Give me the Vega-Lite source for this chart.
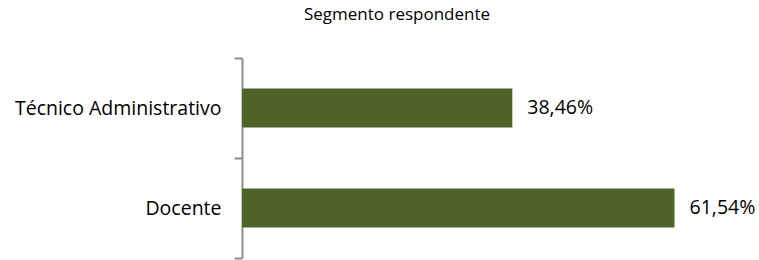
{
  "$schema": "https://vega.github.io/schema/vega-lite/v6.json",
  "autosize": "none",
  "width": 492,
  "height": 200,
  "padding": {"left": 242, "top": 58, "right": 25, "bottom": 2},
  "background": "white",
  "config": {
    "view": {"stroke": null},
    "font": "Open Sans",
    "locale": {"number": {"decimal": ",", "thousands": ".", "grouping": [3], "currency": ["", " €"]}}
  },
  "title": {
    "text": "Segmento respondente",
    "font": "Open Sans",
    "fontSize": 17,
    "fontWeight": "normal",
    "color": "#000000",
    "anchor": "middle",
    "dx": -91,
    "offset": 24
  },
  "data": {
    "values": [
      {"segmento": "Técnico Administrativo", "valor": 0.3846},
      {"segmento": "Docente", "valor": 0.6154}
    ]
  },
  "encoding": {
    "y": {
      "field": "segmento",
      "type": "nominal",
      "sort": ["Técnico Administrativo", "Docente"],
      "scale": {"paddingInner": 0, "paddingOuter": 0},
      "axis": {
        "title": null,
        "tickBand": "extent",
        "domainColor": "#8c8c8c",
        "domainWidth": 2,
        "tickColor": "#8c8c8c",
        "tickWidth": 2,
        "tickSize": 8,
        "labelFont": "Open Sans",
        "labelFontSize": 19.5,
        "labelLimit": 400,
        "labelColor": "#000000",
        "labelPadding": 13
      }
    },
    "x": {
      "field": "valor",
      "type": "quantitative",
      "scale": {"domain": [0, 0.70]},
      "axis": null
    }
  },
  "layer": [
    {
      "mark": {"type": "bar", "color": "#4f6228", "height": {"band": 0.39}}
    },
    {
      "mark": {"type": "text", "align": "left", "baseline": "middle", "dx": 15, "font": "Open Sans", "fontSize": 19.5, "color": "#000000"},
      "encoding": {
        "text": {"field": "valor", "type": "quantitative", "format": ".2%"}
      }
    }
  ]
}
